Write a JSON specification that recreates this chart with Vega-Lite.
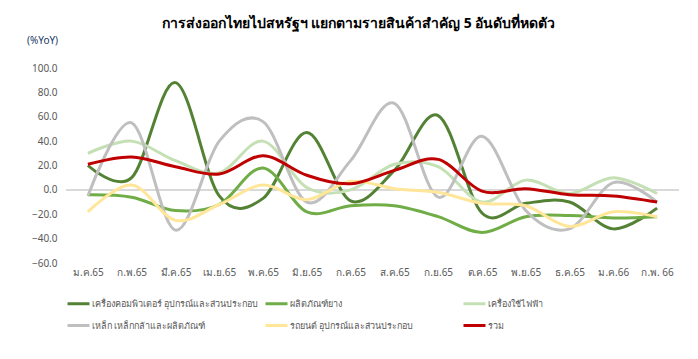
{
  "$schema": "https://vega.github.io/schema/vega-lite/v6.json",
  "width": 613,
  "height": 195,
  "autosize": {"type": "none"},
  "padding": {"left": 66, "top": 68, "right": 19, "bottom": 96},
  "background": "white",
  "title": {
    "text": "การส่งออกไทยไปสหรัฐฯ แยกตามรายสินค้าสำคัญ 5 อันดับที่หดตัว",
    "fontSize": 14,
    "fontWeight": "bold",
    "font": "Noto Sans",
    "color": "#000000",
    "anchor": "middle",
    "dx": -14,
    "offset": 4
  },
  "config": {
    "view": {"stroke": null},
    "font": "Noto Sans",
    "axisY": {"labelOverlap": false}
  },
  "datasets": {
    "rows": [
      {"month": "ม.ค.65", "series": "เครื่องคอมพิวเตอร์ อุปกรณ์และส่วนประกอบ", "value": 20},
      {"month": "ก.พ.65", "series": "เครื่องคอมพิวเตอร์ อุปกรณ์และส่วนประกอบ", "value": 10},
      {"month": "มี.ค.65", "series": "เครื่องคอมพิวเตอร์ อุปกรณ์และส่วนประกอบ", "value": 88},
      {"month": "เม.ย.65", "series": "เครื่องคอมพิวเตอร์ อุปกรณ์และส่วนประกอบ", "value": -5},
      {"month": "พ.ค.65", "series": "เครื่องคอมพิวเตอร์ อุปกรณ์และส่วนประกอบ", "value": -7},
      {"month": "มิ.ย.65", "series": "เครื่องคอมพิวเตอร์ อุปกรณ์และส่วนประกอบ", "value": 47},
      {"month": "ก.ค.65", "series": "เครื่องคอมพิวเตอร์ อุปกรณ์และส่วนประกอบ", "value": -9},
      {"month": "ส.ค.65", "series": "เครื่องคอมพิวเตอร์ อุปกรณ์และส่วนประกอบ", "value": 16},
      {"month": "ก.ย.65", "series": "เครื่องคอมพิวเตอร์ อุปกรณ์และส่วนประกอบ", "value": 61},
      {"month": "ต.ค.65", "series": "เครื่องคอมพิวเตอร์ อุปกรณ์และส่วนประกอบ", "value": -19},
      {"month": "พ.ย.65", "series": "เครื่องคอมพิวเตอร์ อุปกรณ์และส่วนประกอบ", "value": -11},
      {"month": "ธ.ค.65", "series": "เครื่องคอมพิวเตอร์ อุปกรณ์และส่วนประกอบ", "value": -10},
      {"month": "ม.ค.66", "series": "เครื่องคอมพิวเตอร์ อุปกรณ์และส่วนประกอบ", "value": -32},
      {"month": "ก.พ. 66", "series": "เครื่องคอมพิวเตอร์ อุปกรณ์และส่วนประกอบ", "value": -15},

      {"month": "ม.ค.65", "series": "ผลิตภัณฑ์ยาง", "value": -4},
      {"month": "ก.พ.65", "series": "ผลิตภัณฑ์ยาง", "value": -6},
      {"month": "มี.ค.65", "series": "ผลิตภัณฑ์ยาง", "value": -17},
      {"month": "เม.ย.65", "series": "ผลิตภัณฑ์ยาง", "value": -12},
      {"month": "พ.ค.65", "series": "ผลิตภัณฑ์ยาง", "value": 18},
      {"month": "มิ.ย.65", "series": "ผลิตภัณฑ์ยาง", "value": -18},
      {"month": "ก.ค.65", "series": "ผลิตภัณฑ์ยาง", "value": -13},
      {"month": "ส.ค.65", "series": "ผลิตภัณฑ์ยาง", "value": -13},
      {"month": "ก.ย.65", "series": "ผลิตภัณฑ์ยาง", "value": -22},
      {"month": "ต.ค.65", "series": "ผลิตภัณฑ์ยาง", "value": -35},
      {"month": "พ.ย.65", "series": "ผลิตภัณฑ์ยาง", "value": -22},
      {"month": "ธ.ค.65", "series": "ผลิตภัณฑ์ยาง", "value": -21},
      {"month": "ม.ค.66", "series": "ผลิตภัณฑ์ยาง", "value": -23},
      {"month": "ก.พ. 66", "series": "ผลิตภัณฑ์ยาง", "value": -22},

      {"month": "ม.ค.65", "series": "เครื่องใช้ไฟฟ้า", "value": 30},
      {"month": "ก.พ.65", "series": "เครื่องใช้ไฟฟ้า", "value": 40},
      {"month": "มี.ค.65", "series": "เครื่องใช้ไฟฟ้า", "value": 24},
      {"month": "เม.ย.65", "series": "เครื่องใช้ไฟฟ้า", "value": 14},
      {"month": "พ.ค.65", "series": "เครื่องใช้ไฟฟ้า", "value": 40},
      {"month": "มิ.ย.65", "series": "เครื่องใช้ไฟฟ้า", "value": 2},
      {"month": "ก.ค.65", "series": "เครื่องใช้ไฟฟ้า", "value": 0},
      {"month": "ส.ค.65", "series": "เครื่องใช้ไฟฟ้า", "value": 21},
      {"month": "ก.ย.65", "series": "เครื่องใช้ไฟฟ้า", "value": 19},
      {"month": "ต.ค.65", "series": "เครื่องใช้ไฟฟ้า", "value": -10},
      {"month": "พ.ย.65", "series": "เครื่องใช้ไฟฟ้า", "value": 8},
      {"month": "ธ.ค.65", "series": "เครื่องใช้ไฟฟ้า", "value": -3},
      {"month": "ม.ค.66", "series": "เครื่องใช้ไฟฟ้า", "value": 10},
      {"month": "ก.พ. 66", "series": "เครื่องใช้ไฟฟ้า", "value": -3},

      {"month": "ม.ค.65", "series": "เหล็ก เหล็กกล้าและผลิตภัณฑ์", "value": -5},
      {"month": "ก.พ.65", "series": "เหล็ก เหล็กกล้าและผลิตภัณฑ์", "value": 55},
      {"month": "มี.ค.65", "series": "เหล็ก เหล็กกล้าและผลิตภัณฑ์", "value": -33},
      {"month": "เม.ย.65", "series": "เหล็ก เหล็กกล้าและผลิตภัณฑ์", "value": 40},
      {"month": "พ.ค.65", "series": "เหล็ก เหล็กกล้าและผลิตภัณฑ์", "value": 56},
      {"month": "มิ.ย.65", "series": "เหล็ก เหล็กกล้าและผลิตภัณฑ์", "value": -10},
      {"month": "ก.ค.65", "series": "เหล็ก เหล็กกล้าและผลิตภัณฑ์", "value": 24},
      {"month": "ส.ค.65", "series": "เหล็ก เหล็กกล้าและผลิตภัณฑ์", "value": 71},
      {"month": "ก.ย.65", "series": "เหล็ก เหล็กกล้าและผลิตภัณฑ์", "value": -6},
      {"month": "ต.ค.65", "series": "เหล็ก เหล็กกล้าและผลิตภัณฑ์", "value": 44},
      {"month": "พ.ย.65", "series": "เหล็ก เหล็กกล้าและผลิตภัณฑ์", "value": -17},
      {"month": "ธ.ค.65", "series": "เหล็ก เหล็กกล้าและผลิตภัณฑ์", "value": -32},
      {"month": "ม.ค.66", "series": "เหล็ก เหล็กกล้าและผลิตภัณฑ์", "value": 6},
      {"month": "ก.พ. 66", "series": "เหล็ก เหล็กกล้าและผลิตภัณฑ์", "value": -10},

      {"month": "ม.ค.65", "series": "รถยนต์ อุปกรณ์และส่วนประกอบ", "value": -18},
      {"month": "ก.พ.65", "series": "รถยนต์ อุปกรณ์และส่วนประกอบ", "value": 4},
      {"month": "มี.ค.65", "series": "รถยนต์ อุปกรณ์และส่วนประกอบ", "value": -25},
      {"month": "เม.ย.65", "series": "รถยนต์ อุปกรณ์และส่วนประกอบ", "value": -12},
      {"month": "พ.ค.65", "series": "รถยนต์ อุปกรณ์และส่วนประกอบ", "value": 4},
      {"month": "มิ.ย.65", "series": "รถยนต์ อุปกรณ์และส่วนประกอบ", "value": -8},
      {"month": "ก.ค.65", "series": "รถยนต์ อุปกรณ์และส่วนประกอบ", "value": 7},
      {"month": "ส.ค.65", "series": "รถยนต์ อุปกรณ์และส่วนประกอบ", "value": 1},
      {"month": "ก.ย.65", "series": "รถยนต์ อุปกรณ์และส่วนประกอบ", "value": -2},
      {"month": "ต.ค.65", "series": "รถยนต์ อุปกรณ์และส่วนประกอบ", "value": -11},
      {"month": "พ.ย.65", "series": "รถยนต์ อุปกรณ์และส่วนประกอบ", "value": -13},
      {"month": "ธ.ค.65", "series": "รถยนต์ อุปกรณ์และส่วนประกอบ", "value": -30},
      {"month": "ม.ค.66", "series": "รถยนต์ อุปกรณ์และส่วนประกอบ", "value": -18},
      {"month": "ก.พ. 66", "series": "รถยนต์ อุปกรณ์และส่วนประกอบ", "value": -22},

      {"month": "ม.ค.65", "series": "รวม", "value": 21},
      {"month": "ก.พ.65", "series": "รวม", "value": 27},
      {"month": "มี.ค.65", "series": "รวม", "value": 19},
      {"month": "เม.ย.65", "series": "รวม", "value": 13},
      {"month": "พ.ค.65", "series": "รวม", "value": 28},
      {"month": "มิ.ย.65", "series": "รวม", "value": 12},
      {"month": "ก.ค.65", "series": "รวม", "value": 5},
      {"month": "ส.ค.65", "series": "รวม", "value": 16},
      {"month": "ก.ย.65", "series": "รวม", "value": 25},
      {"month": "ต.ค.65", "series": "รวม", "value": -1},
      {"month": "พ.ย.65", "series": "รวม", "value": 1},
      {"month": "ธ.ค.65", "series": "รวม", "value": -4},
      {"month": "ม.ค.66", "series": "รวม", "value": -5},
      {"month": "ก.พ. 66", "series": "รวม", "value": -10}
    ]
  },
  "data": {"name": "rows"},
  "layer": [
    {
      "mark": {"type": "rule", "color": "#d9d9d9", "strokeWidth": 1.5},
      "encoding": {
        "y": {
          "datum": 0,
          "type": "quantitative",
          "scale": {"domain": [-60, 100], "nice": false},
          "axis": {
            "values": [-60, -40, -20, 0, 20, 40, 60, 80, 100],
            "tickCount": 20,
            "format": ".1f",
            "labelOverlap": false,
            "grid": false,
            "ticks": false,
            "domain": false,
            "labelColor": "#595959",
            "labelFontSize": 10,
            "labelPadding": 9,
            "title": "(%YoY)",
            "titleAngle": 0,
            "titleAlign": "center",
            "titleBaseline": "middle",
            "titleX": -24,
            "titleY": -28,
            "titleColor": "#203864",
            "titleFontSize": 10,
            "titleFontWeight": "normal"
          }
        }
      }
    },
    {
      "mark": {"type": "line", "interpolate": "cardinal", "strokeWidth": 3},
      "encoding": {
        "x": {
          "field": "month",
          "type": "ordinal",
          "sort": null,
          "axis": {
            "title": null,
            "labelAngle": 0,
            "ticks": false,
            "domain": false,
            "labelColor": "#595959",
            "labelFontSize": 10,
            "labelPadding": 4
          }
        },
        "y": {
          "field": "value",
          "type": "quantitative"
        },
        "color": {
          "field": "series",
          "type": "nominal",
          "scale": {
            "domain": ["เครื่องคอมพิวเตอร์ อุปกรณ์และส่วนประกอบ", "ผลิตภัณฑ์ยาง", "เครื่องใช้ไฟฟ้า", "เหล็ก เหล็กกล้าและผลิตภัณฑ์", "รถยนต์ อุปกรณ์และส่วนประกอบ", "รวม"],
            "range": ["#548235", "#70AD47", "#C5E0B4", "#BFBFBF", "#FFE699", "#C00000"]
          },
          "legend": {
            "title": null,
            "orient": "bottom",
            "direction": "horizontal",
            "columns": 3,
            "gridAlign": "all",
            "columnPadding": 0,
            "rowPadding": 3,
            "offset": 14,
            "symbolType": "stroke",
            "symbolSize": 484,
            "symbolStrokeWidth": 3,
            "labelColor": "#595959",
            "labelFontSize": 9,
            "labelOffset": 1,
            "labelLimit": 300
          }
        }
      }
    }
  ]
}
